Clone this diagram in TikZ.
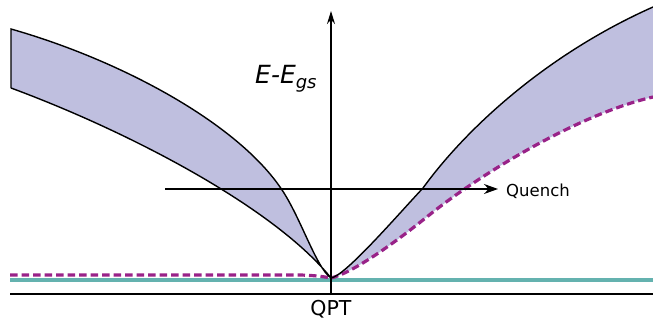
\documentclass[tikz,border=0pt]{standalone}
\usepackage{fontspec}
\setmainfont{DejaVu Sans}
\usetikzlibrary{arrows.meta}
\definecolor{bandfill}{RGB}{191,191,223}
\definecolor{dashpurple}{RGB}{153,34,136}
\definecolor{tealline}{RGB}{100,178,175}
\tikzset{
  curve/.style={line width=1.4pt, black},
  axisline/.style={line width=1.5pt, black},
  gsdash/.style={line width=3.2pt, dashpurple, dash pattern=on 7.5pt off 4pt},
  arrowline/.style={line width=1.3pt, -{Stealth[length=14pt,width=10pt]}},
}
\begin{document}
\begin{tikzpicture}[x=1pt,y=-1pt]
\useasboundingbox (0,0) rectangle (653,322);
% named coordinates
\coordinate (cusp) at (331,278);
\coordinate (ltop) at (11,29);
\coordinate (lbot) at (11,88);
\coordinate (lmid) at (280,187);
\coordinate (rtop) at (653,7);
\coordinate (rbot) at (653,97);
\coordinate (rmid) at (423,188);
\coordinate (dmid) at (428,216);
\coordinate (axbot) at (331,295);
\coordinate (axtop) at (331,11);
\coordinate (basel) at (10,294);
\coordinate (baser) at (653,294);
\coordinate (teall) at (10,280);
\coordinate (tealr) at (653,280);
\coordinate (dleft) at (10,275);
\coordinate (dflat) at (300,275);
\coordinate (qstart) at (165,189);
\coordinate (qend) at (498,189);
% left band fill
\fill[bandfill] (ltop) .. controls (120,60) and (235,122) .. (lmid)
  .. controls (300,215) and (316,268) .. (cusp)
  .. controls (275,208) and (130,132) .. (lbot) -- cycle;
% right band fill
\fill[bandfill] (cusp) .. controls (345,276) and (395,218) .. (rmid)
  .. controls (465,130) and (545,55) .. (rtop) -- (rbot)
  .. controls (575,115) and (475,178) .. (dmid)
  .. controls (392,245) and (352,273) .. (cusp) -- cycle;
% teal line
\draw[tealline, line width=3.2pt] (teall) -- (tealr);
% dashed purple
\draw[gsdash] (dleft) -- (dflat) .. controls (318,275.5) and (325,277) .. (cusp);
\draw[gsdash] (cusp) .. controls (352,273) and (392,245) .. (dmid)
  .. controls (475,178) and (575,115) .. (rbot);
% left band outline
\draw[curve] (lbot) -- (ltop) .. controls (120,60) and (235,122) .. (lmid)
  .. controls (300,215) and (316,268) .. (cusp)
  .. controls (275,208) and (130,132) .. (lbot);
% right band outline
\draw[curve] (cusp) .. controls (345,276) and (395,218) .. (rmid)
  .. controls (465,130) and (545,55) .. (rtop);
% axes
\draw[axisline] (basel) -- (baser);
\draw[axisline, -{Stealth[length=13pt,width=8pt]}] (axbot) -- (axtop);
% quench arrow
\draw[arrowline] (qstart) -- (qend);
\node[anchor=west, inner sep=0pt, font=\fontsize{16.5}{18}\selectfont] (quench) at (506,191) {Quench};
\node[anchor=base, inner sep=0pt, font=\fontsize{20.5}{22}\selectfont] (qpt) at (331,315.5) {QPT};
\node[anchor=base west, inner sep=0pt, font=\fontsize{25}{28}\selectfont\itshape] (elabel) at (255,83) {E-E\raisebox{-0.2em}{\fontsize{18}{20}\selectfont gs}};
\end{tikzpicture}
\end{document}
